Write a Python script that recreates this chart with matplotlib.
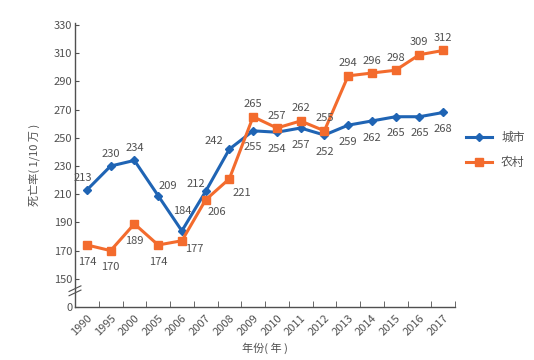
import numpy as np
import matplotlib.pyplot as plt
from matplotlib.lines import Line2D

plt.rcParams['font.family'] = ['Noto Sans CJK SC', 'DejaVu Sans']

years = ["1990", "1995", "2000", "2005", "2006", "2007", "2008", "2009",
         "2010", "2011", "2012", "2013", "2014", "2015", "2016", "2017"]
urban = [213, 230, 234, 209, 184, 212, 242, 255, 254, 257, 252, 259, 262, 265, 265, 268]
rural = [174, 170, 189, 174, 177, 206, 221, 265, 257, 262, 255, 294, 296, 298, 309, 312]
yticks = [150, 170, 190, 210, 230, 250, 270, 290, 310, 330]

# label offsets (points) per point
urban_off = [(-3, 9), (0, 9), (0, 9), (7, 7), (0, 14), (-7, 5), (-11, 6),
             (0, -12), (0, -12), (0, -12), (0, -12), (0, -12), (0, -12),
             (0, -12), (0, -12), (0, -12)]
rural_off = [(0, -12), (0, -12), (0, -12), (0, -12), (9, -6), (8, -9), (9, -10),
             (0, 9), (0, 9), (0, 9), (0, 9), (0, 9), (0, 9), (0, 9), (0, 9), (0, 9)]

BLUE = "#1f64b4"
ORANGE = "#f36b2d"
GRAY = "#505050"
BASE = 130  # position where "0" sits after the axis break

fig = plt.figure(figsize=(5.34, 3.6), dpi=100)
ax = fig.add_axes([75 / 534, 1 - 307 / 360, 380 / 534, 284 / 360])

x = np.arange(len(years))
ax.plot(x, urban, color=BLUE, lw=2.2, marker="D", ms=4, label="城市", zorder=3)
ax.plot(x, rural, color=ORANGE, lw=2.2, marker="s", ms=5.5, label="农村", zorder=3)

for i in range(len(years)):
    ax.annotate(str(urban[i]), (x[i], urban[i]), xytext=urban_off[i], textcoords="offset points",
                ha="center", va="center", fontsize=8, color=GRAY)
    ax.annotate(str(rural[i]), (x[i], rural[i]), xytext=rural_off[i], textcoords="offset points",
                ha="center", va="center", fontsize=8, color=GRAY)

ax.set_xlim(-0.5, len(years) - 0.5)
ax.set_ylim(BASE, 331.5)
ax.set_yticks([BASE] + yticks)
ax.set_yticklabels(["0"] + [str(t) for t in yticks])
ax.set_xticks(x)
ax.set_xticklabels(years, rotation=45, ha="right", rotation_mode="anchor")
ax.set_xticks(np.arange(-0.5, len(years), 1), minor=True)
ax.tick_params(axis="x", which="major", length=0, labelsize=8, colors=GRAY, pad=4)
ax.tick_params(axis="x", which="minor", length=4, direction="in", color=GRAY)
ax.tick_params(axis="y", length=3, direction="in", labelsize=8, colors=GRAY, pad=2)

for s in ["top", "right"]:
    ax.spines[s].set_visible(False)
for s in ["left", "bottom"]:
    ax.spines[s].set_color(GRAY)
    ax.spines[s].set_linewidth(1.0)

# axis break marks
for dy in (0, 3):
    ax.plot([-0.75, -0.25], [138 + dy, 142 + dy], color=GRAY, lw=0.8, clip_on=False)

ax.set_ylabel("死亡率( 1/10 万 )", fontsize=8, color=GRAY, labelpad=10)
ax.set_xlabel("年份( 年 )", fontsize=8, color=GRAY, labelpad=4)

handles = [Line2D([], [], color=BLUE, lw=2.2, marker="D", ms=4),
           Line2D([], [], color=ORANGE, lw=2.2, marker="s", ms=5.5)]
fig.legend(handles, ["城市", "农村"], loc="center left", bbox_to_anchor=(455 / 534, 1 - 150 / 360),
           frameon=False, fontsize=8.5, labelcolor=GRAY, handlelength=2.2, labelspacing=1.0)

fig.savefig("out.png", dpi=100)
